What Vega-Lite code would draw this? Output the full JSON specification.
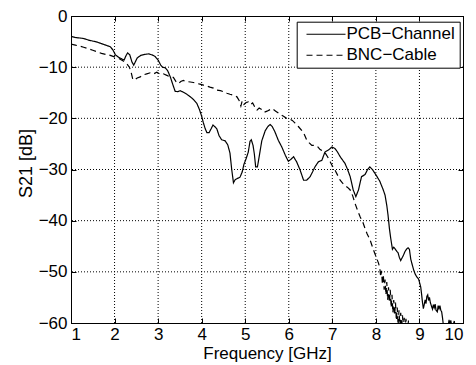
{
"$schema": "https://vega.github.io/schema/vega-lite/v6.json",
"width": 392, "height": 307,
"autosize": {"type": "none"},
"padding": {"left": 71, "top": 16, "right": 13, "bottom": 42},
"background": "white",
"config": {
  "font": "Liberation Sans",
  "view": {"stroke": "black", "strokeWidth": 1},
  "axis": {"labelFontSize": 17, "titleFontSize": 17, "titleFontWeight": "normal", "labelColor": "black", "titleColor": "black",
           "domainColor": "black", "tickColor": "black", "tickSize": -5, "grid": false},
  "legend": {"orient": "none", "legendX": 225.7, "legendY": 5.7, "strokeColor": "black", "fillColor": "white", "padding": 4, "rowPadding": 3,
             "labelFontSize": 17, "labelColor": "black", "symbolType": "M-3.9,0H3.9", "symbolSize": 100, "symbolStrokeWidth": 1.1,
             "symbolOffset": 16.8, "labelOffset": 12, "cornerRadius": 0}
},
"datasets": {
  "vgrid": [{"f":2},{"f":3},{"f":4},{"f":5},{"f":6},{"f":7},{"f":8},{"f":9}],
  "hgrid": [{"v":-10},{"v":-20},{"v":-30},{"v":-40},{"v":-50}]
},
"data": {"values": [
{"f":1.00,"v":-4.0,"s":"PCB−Channel"},{"f":1.10,"v":-4.2,"s":"PCB−Channel"},{"f":1.20,"v":-4.3,"s":"PCB−Channel"},{"f":1.29,"v":-4.4,"s":"PCB−Channel"},
{"f":1.40,"v":-4.7,"s":"PCB−Channel"},{"f":1.50,"v":-4.9,"s":"PCB−Channel"},{"f":1.60,"v":-5.1,"s":"PCB−Channel"},{"f":1.70,"v":-5.4,"s":"PCB−Channel"},
{"f":1.80,"v":-5.7,"s":"PCB−Channel"},{"f":1.90,"v":-6.0,"s":"PCB−Channel"},{"f":1.96,"v":-6.6,"s":"PCB−Channel"},{"f":2.02,"v":-7.6,"s":"PCB−Channel"},
{"f":2.10,"v":-8.1,"s":"PCB−Channel"},{"f":2.17,"v":-8.4,"s":"PCB−Channel"},{"f":2.22,"v":-8.6,"s":"PCB−Channel"},{"f":2.26,"v":-7.8,"s":"PCB−Channel"},
{"f":2.30,"v":-7.2,"s":"PCB−Channel"},{"f":2.35,"v":-7.6,"s":"PCB−Channel"},{"f":2.40,"v":-9.0,"s":"PCB−Channel"},{"f":2.44,"v":-9.6,"s":"PCB−Channel"},
{"f":2.48,"v":-8.9,"s":"PCB−Channel"},{"f":2.52,"v":-8.2,"s":"PCB−Channel"},{"f":2.60,"v":-7.7,"s":"PCB−Channel"},{"f":2.70,"v":-7.5,"s":"PCB−Channel"},
{"f":2.78,"v":-7.4,"s":"PCB−Channel"},{"f":2.86,"v":-7.6,"s":"PCB−Channel"},{"f":2.93,"v":-7.9,"s":"PCB−Channel"},{"f":3.00,"v":-8.6,"s":"PCB−Channel"},
{"f":3.06,"v":-9.6,"s":"PCB−Channel"},{"f":3.10,"v":-10.0,"s":"PCB−Channel"},{"f":3.16,"v":-10.1,"s":"PCB−Channel"},{"f":3.22,"v":-10.7,"s":"PCB−Channel"},
{"f":3.28,"v":-11.9,"s":"PCB−Channel"},{"f":3.33,"v":-13.2,"s":"PCB−Channel"},{"f":3.39,"v":-14.7,"s":"PCB−Channel"},{"f":3.45,"v":-14.8,"s":"PCB−Channel"},
{"f":3.51,"v":-14.6,"s":"PCB−Channel"},{"f":3.58,"v":-14.9,"s":"PCB−Channel"},{"f":3.66,"v":-15.3,"s":"PCB−Channel"},{"f":3.74,"v":-15.8,"s":"PCB−Channel"},
{"f":3.81,"v":-16.3,"s":"PCB−Channel"},{"f":3.89,"v":-17.1,"s":"PCB−Channel"},{"f":3.95,"v":-18.3,"s":"PCB−Channel"},{"f":4.00,"v":-19.6,"s":"PCB−Channel"},
{"f":4.04,"v":-20.9,"s":"PCB−Channel"},{"f":4.08,"v":-22.0,"s":"PCB−Channel"},{"f":4.12,"v":-22.8,"s":"PCB−Channel"},{"f":4.17,"v":-22.8,"s":"PCB−Channel"},
{"f":4.22,"v":-22.0,"s":"PCB−Channel"},{"f":4.26,"v":-21.3,"s":"PCB−Channel"},{"f":4.31,"v":-21.7,"s":"PCB−Channel"},{"f":4.35,"v":-22.1,"s":"PCB−Channel"},
{"f":4.40,"v":-23.4,"s":"PCB−Channel"},{"f":4.46,"v":-24.2,"s":"PCB−Channel"},{"f":4.54,"v":-24.4,"s":"PCB−Channel"},{"f":4.60,"v":-25.2,"s":"PCB−Channel"},
{"f":4.65,"v":-26.8,"s":"PCB−Channel"},{"f":4.69,"v":-30.0,"s":"PCB−Channel"},{"f":4.73,"v":-32.6,"s":"PCB−Channel"},{"f":4.77,"v":-32.0,"s":"PCB−Channel"},
{"f":4.81,"v":-31.8,"s":"PCB−Channel"},{"f":4.88,"v":-31.5,"s":"PCB−Channel"},{"f":4.93,"v":-30.5,"s":"PCB−Channel"},{"f":4.97,"v":-29.0,"s":"PCB−Channel"},
{"f":5.02,"v":-27.9,"s":"PCB−Channel"},{"f":5.07,"v":-26.6,"s":"PCB−Channel"},{"f":5.11,"v":-24.5,"s":"PCB−Channel"},{"f":5.14,"v":-24.2,"s":"PCB−Channel"},
{"f":5.18,"v":-25.3,"s":"PCB−Channel"},{"f":5.21,"v":-27.0,"s":"PCB−Channel"},{"f":5.24,"v":-29.5,"s":"PCB−Channel"},{"f":5.28,"v":-29.5,"s":"PCB−Channel"},
{"f":5.33,"v":-27.0,"s":"PCB−Channel"},{"f":5.38,"v":-24.4,"s":"PCB−Channel"},{"f":5.46,"v":-22.4,"s":"PCB−Channel"},{"f":5.52,"v":-21.6,"s":"PCB−Channel"},
{"f":5.57,"v":-21.2,"s":"PCB−Channel"},{"f":5.62,"v":-21.6,"s":"PCB−Channel"},{"f":5.68,"v":-22.6,"s":"PCB−Channel"},{"f":5.76,"v":-24.3,"s":"PCB−Channel"},
{"f":5.84,"v":-25.6,"s":"PCB−Channel"},{"f":5.92,"v":-27.2,"s":"PCB−Channel"},{"f":5.99,"v":-28.4,"s":"PCB−Channel"},{"f":6.05,"v":-28.0,"s":"PCB−Channel"},
{"f":6.11,"v":-27.5,"s":"PCB−Channel"},{"f":6.18,"v":-28.5,"s":"PCB−Channel"},{"f":6.26,"v":-30.1,"s":"PCB−Channel"},{"f":6.34,"v":-32.1,"s":"PCB−Channel"},
{"f":6.41,"v":-32.1,"s":"PCB−Channel"},{"f":6.49,"v":-31.4,"s":"PCB−Channel"},{"f":6.55,"v":-30.4,"s":"PCB−Channel"},{"f":6.60,"v":-29.5,"s":"PCB−Channel"},
{"f":6.68,"v":-28.5,"s":"PCB−Channel"},{"f":6.76,"v":-28.2,"s":"PCB−Channel"},{"f":6.83,"v":-26.6,"s":"PCB−Channel"},{"f":6.91,"v":-26.2,"s":"PCB−Channel"},
{"f":6.99,"v":-25.6,"s":"PCB−Channel"},{"f":7.06,"v":-25.9,"s":"PCB−Channel"},{"f":7.12,"v":-26.6,"s":"PCB−Channel"},{"f":7.18,"v":-27.5,"s":"PCB−Channel"},
{"f":7.29,"v":-28.8,"s":"PCB−Channel"},{"f":7.35,"v":-30.0,"s":"PCB−Channel"},{"f":7.41,"v":-31.4,"s":"PCB−Channel"},{"f":7.48,"v":-34.0,"s":"PCB−Channel"},
{"f":7.54,"v":-35.3,"s":"PCB−Channel"},{"f":7.60,"v":-34.0,"s":"PCB−Channel"},{"f":7.67,"v":-31.4,"s":"PCB−Channel"},{"f":7.75,"v":-31.0,"s":"PCB−Channel"},
{"f":7.81,"v":-30.0,"s":"PCB−Channel"},{"f":7.86,"v":-29.5,"s":"PCB−Channel"},{"f":7.92,"v":-30.0,"s":"PCB−Channel"},{"f":8.02,"v":-31.3,"s":"PCB−Channel"},
{"f":8.09,"v":-32.3,"s":"PCB−Channel"},{"f":8.17,"v":-34.0,"s":"PCB−Channel"},{"f":8.21,"v":-35.0,"s":"PCB−Channel"},{"f":8.25,"v":-37.0,"s":"PCB−Channel"},
{"f":8.28,"v":-39.0,"s":"PCB−Channel"},{"f":8.31,"v":-41.5,"s":"PCB−Channel"},{"f":8.34,"v":-43.4,"s":"PCB−Channel"},{"f":8.38,"v":-45.6,"s":"PCB−Channel"},
{"f":8.41,"v":-45.2,"s":"PCB−Channel"},{"f":8.44,"v":-45.5,"s":"PCB−Channel"},{"f":8.48,"v":-46.0,"s":"PCB−Channel"},{"f":8.51,"v":-46.3,"s":"PCB−Channel"},
{"f":8.54,"v":-47.2,"s":"PCB−Channel"},{"f":8.57,"v":-47.8,"s":"PCB−Channel"},{"f":8.60,"v":-47.3,"s":"PCB−Channel"},{"f":8.63,"v":-46.8,"s":"PCB−Channel"},
{"f":8.67,"v":-46.0,"s":"PCB−Channel"},{"f":8.71,"v":-45.5,"s":"PCB−Channel"},{"f":8.74,"v":-45.3,"s":"PCB−Channel"},{"f":8.77,"v":-45.6,"s":"PCB−Channel"},
{"f":8.80,"v":-47.5,"s":"PCB−Channel"},{"f":8.84,"v":-48.8,"s":"PCB−Channel"},{"f":8.87,"v":-49.7,"s":"PCB−Channel"},{"f":8.90,"v":-50.4,"s":"PCB−Channel"},
{"f":8.94,"v":-51.0,"s":"PCB−Channel"},{"f":8.98,"v":-51.4,"s":"PCB−Channel"},{"f":9.00,"v":-52.0,"s":"PCB−Channel"},{"f":9.03,"v":-53.0,"s":"PCB−Channel"},
{"f":9.05,"v":-54.4,"s":"PCB−Channel"},{"f":9.07,"v":-56.0,"s":"PCB−Channel"},{"f":9.09,"v":-57.2,"s":"PCB−Channel"},{"f":9.11,"v":-56.4,"s":"PCB−Channel"},
{"f":9.13,"v":-55.5,"s":"PCB−Channel"},{"f":9.15,"v":-56.2,"s":"PCB−Channel"},{"f":9.17,"v":-54.8,"s":"PCB−Channel"},{"f":9.19,"v":-54.5,"s":"PCB−Channel"},
{"f":9.21,"v":-55.6,"s":"PCB−Channel"},{"f":9.23,"v":-55.0,"s":"PCB−Channel"},{"f":9.25,"v":-56.0,"s":"PCB−Channel"},{"f":9.28,"v":-56.8,"s":"PCB−Channel"},
{"f":9.30,"v":-57.3,"s":"PCB−Channel"},{"f":9.32,"v":-56.4,"s":"PCB−Channel"},{"f":9.34,"v":-57.0,"s":"PCB−Channel"},{"f":9.36,"v":-56.3,"s":"PCB−Channel"},
{"f":9.38,"v":-57.5,"s":"PCB−Channel"},{"f":9.41,"v":-57.8,"s":"PCB−Channel"},{"f":9.43,"v":-56.6,"s":"PCB−Channel"},{"f":9.45,"v":-57.2,"s":"PCB−Channel"},
{"f":9.47,"v":-56.6,"s":"PCB−Channel"},{"f":9.49,"v":-57.5,"s":"PCB−Channel"},{"f":9.51,"v":-57.8,"s":"PCB−Channel"},{"f":9.53,"v":-59.0,"s":"PCB−Channel"},
{"f":9.55,"v":-60.5,"s":"PCB−Channel"},{"f":9.60,"v":-61.5,"s":"PCB−Channel"},{"f":9.66,"v":-60.5,"s":"PCB−Channel"},{"f":9.68,"v":-59.4,"s":"PCB−Channel"},
{"f":9.70,"v":-60.3,"s":"PCB−Channel"},{"f":9.72,"v":-59.5,"s":"PCB−Channel"},{"f":9.75,"v":-61.0,"s":"PCB−Channel"},{"f":9.80,"v":-59.6,"s":"PCB−Channel"},
{"f":9.82,"v":-61.0,"s":"PCB−Channel"},{"f":9.90,"v":-63.0,"s":"PCB−Channel"},{"f":10.0,"v":-64.0,"s":"PCB−Channel"},
{"f":1.00,"v":-5.5,"s":"BNC−Cable"},{"f":1.10,"v":-5.7,"s":"BNC−Cable"},{"f":1.20,"v":-5.9,"s":"BNC−Cable"},{"f":1.29,"v":-6.1,"s":"BNC−Cable"},
{"f":1.40,"v":-6.4,"s":"BNC−Cable"},{"f":1.50,"v":-6.7,"s":"BNC−Cable"},{"f":1.60,"v":-7.0,"s":"BNC−Cable"},{"f":1.70,"v":-7.3,"s":"BNC−Cable"},
{"f":1.80,"v":-7.5,"s":"BNC−Cable"},{"f":1.90,"v":-7.7,"s":"BNC−Cable"},{"f":2.00,"v":-8.0,"s":"BNC−Cable"},{"f":2.10,"v":-8.3,"s":"BNC−Cable"},
{"f":2.20,"v":-8.8,"s":"BNC−Cable"},{"f":2.28,"v":-9.3,"s":"BNC−Cable"},{"f":2.34,"v":-10.0,"s":"BNC−Cable"},{"f":2.38,"v":-11.0,"s":"BNC−Cable"},
{"f":2.42,"v":-12.4,"s":"BNC−Cable"},{"f":2.46,"v":-12.5,"s":"BNC−Cable"},{"f":2.52,"v":-12.1,"s":"BNC−Cable"},{"f":2.59,"v":-11.9,"s":"BNC−Cable"},
{"f":2.66,"v":-11.5,"s":"BNC−Cable"},{"f":2.74,"v":-11.3,"s":"BNC−Cable"},{"f":2.82,"v":-11.1,"s":"BNC−Cable"},{"f":2.90,"v":-11.3,"s":"BNC−Cable"},
{"f":2.97,"v":-11.0,"s":"BNC−Cable"},{"f":3.05,"v":-11.4,"s":"BNC−Cable"},{"f":3.12,"v":-11.3,"s":"BNC−Cable"},{"f":3.20,"v":-11.6,"s":"BNC−Cable"},
{"f":3.28,"v":-11.9,"s":"BNC−Cable"},{"f":3.35,"v":-12.0,"s":"BNC−Cable"},{"f":3.41,"v":-12.8,"s":"BNC−Cable"},{"f":3.47,"v":-13.2,"s":"BNC−Cable"},
{"f":3.52,"v":-12.8,"s":"BNC−Cable"},{"f":3.58,"v":-12.6,"s":"BNC−Cable"},{"f":3.66,"v":-12.8,"s":"BNC−Cable"},{"f":3.74,"v":-12.9,"s":"BNC−Cable"},
{"f":3.81,"v":-13.0,"s":"BNC−Cable"},{"f":3.89,"v":-13.2,"s":"BNC−Cable"},{"f":3.96,"v":-13.3,"s":"BNC−Cable"},{"f":4.04,"v":-13.5,"s":"BNC−Cable"},
{"f":4.12,"v":-13.7,"s":"BNC−Cable"},{"f":4.19,"v":-13.9,"s":"BNC−Cable"},{"f":4.27,"v":-14.1,"s":"BNC−Cable"},{"f":4.35,"v":-14.5,"s":"BNC−Cable"},
{"f":4.43,"v":-14.6,"s":"BNC−Cable"},{"f":4.50,"v":-14.8,"s":"BNC−Cable"},{"f":4.58,"v":-15.1,"s":"BNC−Cable"},{"f":4.65,"v":-15.3,"s":"BNC−Cable"},
{"f":4.73,"v":-15.5,"s":"BNC−Cable"},{"f":4.81,"v":-15.8,"s":"BNC−Cable"},{"f":4.86,"v":-16.5,"s":"BNC−Cable"},{"f":4.90,"v":-17.6,"s":"BNC−Cable"},
{"f":4.93,"v":-16.6,"s":"BNC−Cable"},{"f":4.97,"v":-17.3,"s":"BNC−Cable"},{"f":5.02,"v":-16.9,"s":"BNC−Cable"},{"f":5.07,"v":-16.8,"s":"BNC−Cable"},
{"f":5.12,"v":-17.3,"s":"BNC−Cable"},{"f":5.17,"v":-17.0,"s":"BNC−Cable"},{"f":5.22,"v":-17.8,"s":"BNC−Cable"},{"f":5.27,"v":-18.4,"s":"BNC−Cable"},
{"f":5.32,"v":-18.0,"s":"BNC−Cable"},{"f":5.38,"v":-18.3,"s":"BNC−Cable"},{"f":5.44,"v":-18.8,"s":"BNC−Cable"},{"f":5.50,"v":-18.6,"s":"BNC−Cable"},
{"f":5.57,"v":-18.3,"s":"BNC−Cable"},{"f":5.62,"v":-18.1,"s":"BNC−Cable"},{"f":5.70,"v":-18.6,"s":"BNC−Cable"},{"f":5.80,"v":-19.2,"s":"BNC−Cable"},
{"f":5.88,"v":-19.6,"s":"BNC−Cable"},{"f":5.95,"v":-20.0,"s":"BNC−Cable"},{"f":6.02,"v":-20.1,"s":"BNC−Cable"},{"f":6.08,"v":-20.4,"s":"BNC−Cable"},
{"f":6.14,"v":-20.9,"s":"BNC−Cable"},{"f":6.22,"v":-21.6,"s":"BNC−Cable"},{"f":6.30,"v":-22.4,"s":"BNC−Cable"},{"f":6.36,"v":-23.2,"s":"BNC−Cable"},
{"f":6.41,"v":-24.2,"s":"BNC−Cable"},{"f":6.47,"v":-24.8,"s":"BNC−Cable"},{"f":6.53,"v":-25.3,"s":"BNC−Cable"},{"f":6.60,"v":-25.3,"s":"BNC−Cable"},
{"f":6.66,"v":-25.5,"s":"BNC−Cable"},{"f":6.72,"v":-26.1,"s":"BNC−Cable"},{"f":6.78,"v":-26.4,"s":"BNC−Cable"},{"f":6.83,"v":-26.7,"s":"BNC−Cable"},
{"f":6.89,"v":-27.5,"s":"BNC−Cable"},{"f":6.95,"v":-28.5,"s":"BNC−Cable"},{"f":7.00,"v":-29.3,"s":"BNC−Cable"},{"f":7.06,"v":-30.1,"s":"BNC−Cable"},
{"f":7.12,"v":-31.1,"s":"BNC−Cable"},{"f":7.18,"v":-32.1,"s":"BNC−Cable"},{"f":7.24,"v":-32.7,"s":"BNC−Cable"},{"f":7.29,"v":-33.1,"s":"BNC−Cable"},
{"f":7.35,"v":-33.5,"s":"BNC−Cable"},{"f":7.41,"v":-34.0,"s":"BNC−Cable"},{"f":7.47,"v":-35.2,"s":"BNC−Cable"},{"f":7.52,"v":-36.6,"s":"BNC−Cable"},
{"f":7.58,"v":-38.0,"s":"BNC−Cable"},{"f":7.64,"v":-39.3,"s":"BNC−Cable"},{"f":7.70,"v":-40.3,"s":"BNC−Cable"},{"f":7.75,"v":-41.5,"s":"BNC−Cable"},
{"f":7.80,"v":-42.6,"s":"BNC−Cable"},{"f":7.86,"v":-43.6,"s":"BNC−Cable"},{"f":7.90,"v":-44.6,"s":"BNC−Cable"},{"f":7.94,"v":-45.6,"s":"BNC−Cable"},
{"f":7.98,"v":-46.5,"s":"BNC−Cable"},{"f":8.02,"v":-47.4,"s":"BNC−Cable"},{"f":8.06,"v":-48.3,"s":"BNC−Cable"},{"f":8.09,"v":-49.2,"s":"BNC−Cable"},
{"f":8.11,"v":-51.0,"s":"BNC−Cable"},{"f":8.13,"v":-49.8,"s":"BNC−Cable"},{"f":8.15,"v":-52.5,"s":"BNC−Cable"},{"f":8.17,"v":-50.5,"s":"BNC−Cable"},
{"f":8.19,"v":-53.5,"s":"BNC−Cable"},{"f":8.21,"v":-51.5,"s":"BNC−Cable"},{"f":8.23,"v":-54.5,"s":"BNC−Cable"},{"f":8.25,"v":-52.0,"s":"BNC−Cable"},
{"f":8.27,"v":-55.5,"s":"BNC−Cable"},{"f":8.29,"v":-53.0,"s":"BNC−Cable"},{"f":8.31,"v":-56.0,"s":"BNC−Cable"},{"f":8.33,"v":-53.5,"s":"BNC−Cable"},
{"f":8.35,"v":-57.0,"s":"BNC−Cable"},{"f":8.37,"v":-54.5,"s":"BNC−Cable"},{"f":8.39,"v":-58.0,"s":"BNC−Cable"},{"f":8.41,"v":-55.5,"s":"BNC−Cable"},
{"f":8.43,"v":-58.5,"s":"BNC−Cable"},{"f":8.45,"v":-56.0,"s":"BNC−Cable"},{"f":8.47,"v":-59.5,"s":"BNC−Cable"},{"f":8.49,"v":-57.0,"s":"BNC−Cable"},
{"f":8.51,"v":-60.5,"s":"BNC−Cable"},{"f":8.53,"v":-57.5,"s":"BNC−Cable"},{"f":8.55,"v":-60.5,"s":"BNC−Cable"},{"f":8.57,"v":-58.0,"s":"BNC−Cable"},
{"f":8.59,"v":-61.0,"s":"BNC−Cable"},{"f":8.61,"v":-58.5,"s":"BNC−Cable"},{"f":8.63,"v":-61.0,"s":"BNC−Cable"},{"f":8.65,"v":-59.0,"s":"BNC−Cable"},
{"f":8.67,"v":-61.0,"s":"BNC−Cable"},{"f":8.69,"v":-59.2,"s":"BNC−Cable"},{"f":8.72,"v":-61.5,"s":"BNC−Cable"},{"f":8.75,"v":-59.5,"s":"BNC−Cable"},
{"f":8.78,"v":-62.0,"s":"BNC−Cable"},{"f":8.85,"v":-64.0,"s":"BNC−Cable"},{"f":9.00,"v":-66.0,"s":"BNC−Cable"},{"f":10.0,"v":-70.0,"s":"BNC−Cable"}
]},
"layer": [
  {"data": {"name": "vgrid"},
   "mark": {"type": "rule", "color": "#000000", "strokeWidth": 1, "strokeDash": [1, 2], "opacity": 1},
   "encoding": {"x": {"field": "f", "type": "quantitative", "scale": {"domain": [1, 10], "nice": false, "zero": false}, "axis": null}}},
  {"data": {"name": "hgrid"},
   "mark": {"type": "rule", "color": "#000000", "strokeWidth": 1, "strokeDash": [1, 2], "opacity": 1},
   "encoding": {"y": {"field": "v", "type": "quantitative", "scale": {"domain": [-60, 0], "nice": false, "zero": false}, "axis": null}}},
  {"mark": {"type": "line", "clip": true, "strokeWidth": 1.2},
   "encoding": {
     "x": {"field": "f", "type": "quantitative", "scale": {"domain": [1, 10], "nice": false, "zero": false},
           "axis": {"orient": "bottom", "values": [1,2,3,4,5,6,7,8,9,10], "title": "Frequency [GHz]", "labelPadding": 8,
                    "titleY": 35, "titleBaseline": "alphabetic"}},
     "y": {"field": "v", "type": "quantitative", "scale": {"domain": [-60, 0], "nice": false, "zero": false},
           "axis": {"orient": "left", "values": [0,-10,-20,-30,-40,-50,-60], "title": "S21 [dB]", "labelPadding": 9, "titleFontSize": 18,
                    "titleX": -40, "titleY": 147, "titleBaseline": "alphabetic", "titleAlign": "center", "titleAngle": 270,
                    "labelExpr": "replace(datum.label, '-', '−')"}},
     "color": {"field": "s", "type": "nominal", "scale": {"domain": ["PCB−Channel", "BNC−Cable"], "range": ["black", "black"]}, "legend": {"title": null}},
     "strokeDash": {"field": "s", "type": "nominal", "scale": {"domain": ["PCB−Channel", "BNC−Cable"], "range": [[1, 0], [6, 4]]}, "legend": {"title": null}}
   }},
  {"mark": {"type": "line", "opacity": 0},
   "encoding": {
     "x": {"field": "f", "type": "quantitative", "scale": {"domain": [1, 10], "nice": false, "zero": false},
           "axis": {"orient": "top", "values": [1,2,3,4,5,6,7,8,9,10], "title": null, "labels": false}},
     "y": {"field": "v", "type": "quantitative", "scale": {"domain": [-60, 0], "nice": false, "zero": false},
           "axis": {"orient": "right", "values": [0,-10,-20,-30,-40,-50,-60], "title": null, "labels": false}},
     "detail": {"field": "s"}
   }}
],
"resolve": {"axis": {"x": "independent", "y": "independent"}}
}
